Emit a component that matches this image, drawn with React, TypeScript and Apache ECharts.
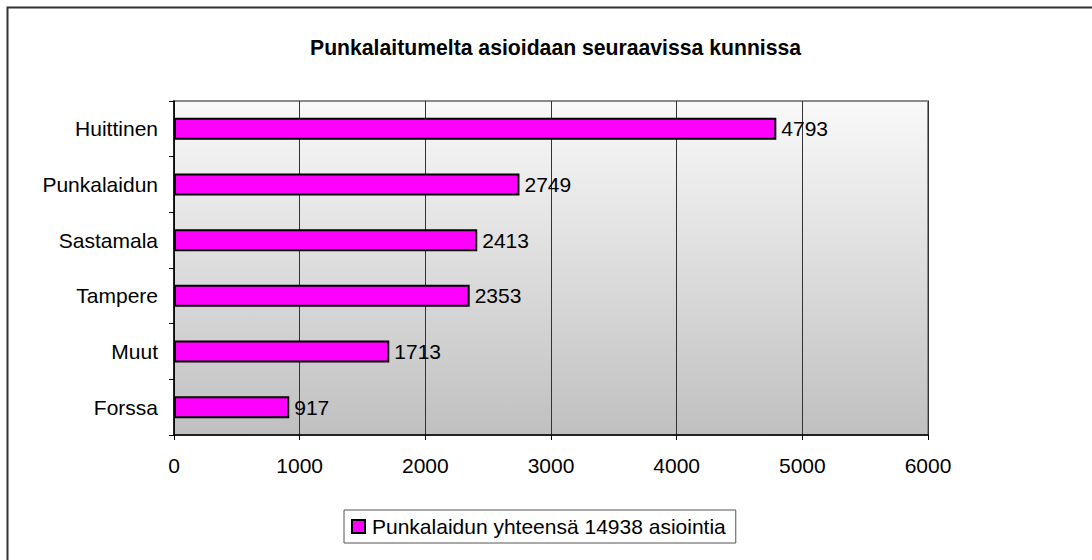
import React, { useEffect, useRef } from "react";
import * as echarts from "echarts";

const titleText = "Punkalaitumelta asioidaan seuraavissa kunnissa";
const categories = ["Huittinen", "Punkalaidun", "Sastamala", "Tampere", "Muut", "Forssa"];
const values = [4793, 2749, 2413, 2353, 1713, 917];
const seriesName = "Punkalaidun yhteensä 14938 asiointia";

export default function App() {
  const ref = useRef<HTMLDivElement>(null);
  useEffect(() => {
    if (!ref.current) return;
    const chart = echarts.init(ref.current, undefined, { renderer: "svg" });
    const font = "Liberation Sans, Arial, sans-serif";
    chart.setOption({
      animation: false,
      backgroundColor: "#ffffff",
      textStyle: { fontFamily: font },
      graphic: [
        {
          type: "rect",
          shape: { x: 7.5, y: 7.5, width: 1100, height: 600 },
          style: { fill: "none", stroke: "#333333", lineWidth: 2 },
          silent: true,
          z: 100,
        },
      ],
      title: {
        text: titleText,
        left: 310,
        top: 37,
        textStyle: { fontFamily: font, fontSize: 21.2, fontWeight: "bold", color: "#000" },
        padding: 0,
      },
      legend: {
        left: 344,
        top: 510,
        padding: [6, 10, 6, 7],
        borderColor: "#555",
        borderWidth: 1,
        itemWidth: 13,
        itemHeight: 13,
        itemGap: 4,
        icon: "rect",
        textStyle: { fontFamily: font, fontSize: 21, color: "#000", padding: [0, 0, 0, 2] },
        data: [{ name: seriesName, itemStyle: { color: "#ff00ff", borderColor: "#000", borderWidth: 2 } }],
      },
      grid: {
        left: 174,
        top: 101,
        width: 754,
        height: 334,
        show: true,
        backgroundColor: new echarts.graphic.LinearGradient(0, 0, 0, 1, [
          { offset: 0, color: "#f9f9f9" },
          { offset: 1, color: "#c0c0c0" },
        ]),
        borderColor: "#8a8a8a",
        borderWidth: 2,
      },
      xAxis: {
        type: "value",
        min: 0,
        max: 6000,
        interval: 1000,
        axisLine: { show: true, lineStyle: { color: "#000", width: 1.5 } },
        axisTick: { show: true, length: 5, lineStyle: { color: "#000" } },
        axisLabel: {
          fontFamily: font,
          fontSize: 21,
          color: "#000",
          margin: 20,
          formatter: (v: number) => String(v),
        },
        splitLine: { show: true, lineStyle: { color: "#333", width: 1 } },
      },
      yAxis: {
        type: "category",
        inverse: true,
        data: categories,
        axisLine: { show: true, lineStyle: { color: "#000", width: 1.5 } },
        axisTick: { show: true, length: 5, lineStyle: { color: "#000" } },
        axisLabel: { fontFamily: font, fontSize: 21, color: "#000", margin: 16 },
        splitLine: { show: false },
      },
      series: [
        {
          name: seriesName,
          type: "bar",
          data: values,
          barWidth: 22,
          itemStyle: { color: "#ff00ff", borderColor: "#000", borderWidth: 2 },
          label: {
            show: true,
            position: "right",
            distance: 5,
            fontFamily: font,
            fontSize: 21,
            color: "#000",
          },
        },
      ],
    });
    return () => chart.dispose();
  }, []);
  return (
    <div
      ref={ref}
      style={{ position: "fixed", left: 0, top: 0, width: 1092, height: 560 }}
    />
  );
}
